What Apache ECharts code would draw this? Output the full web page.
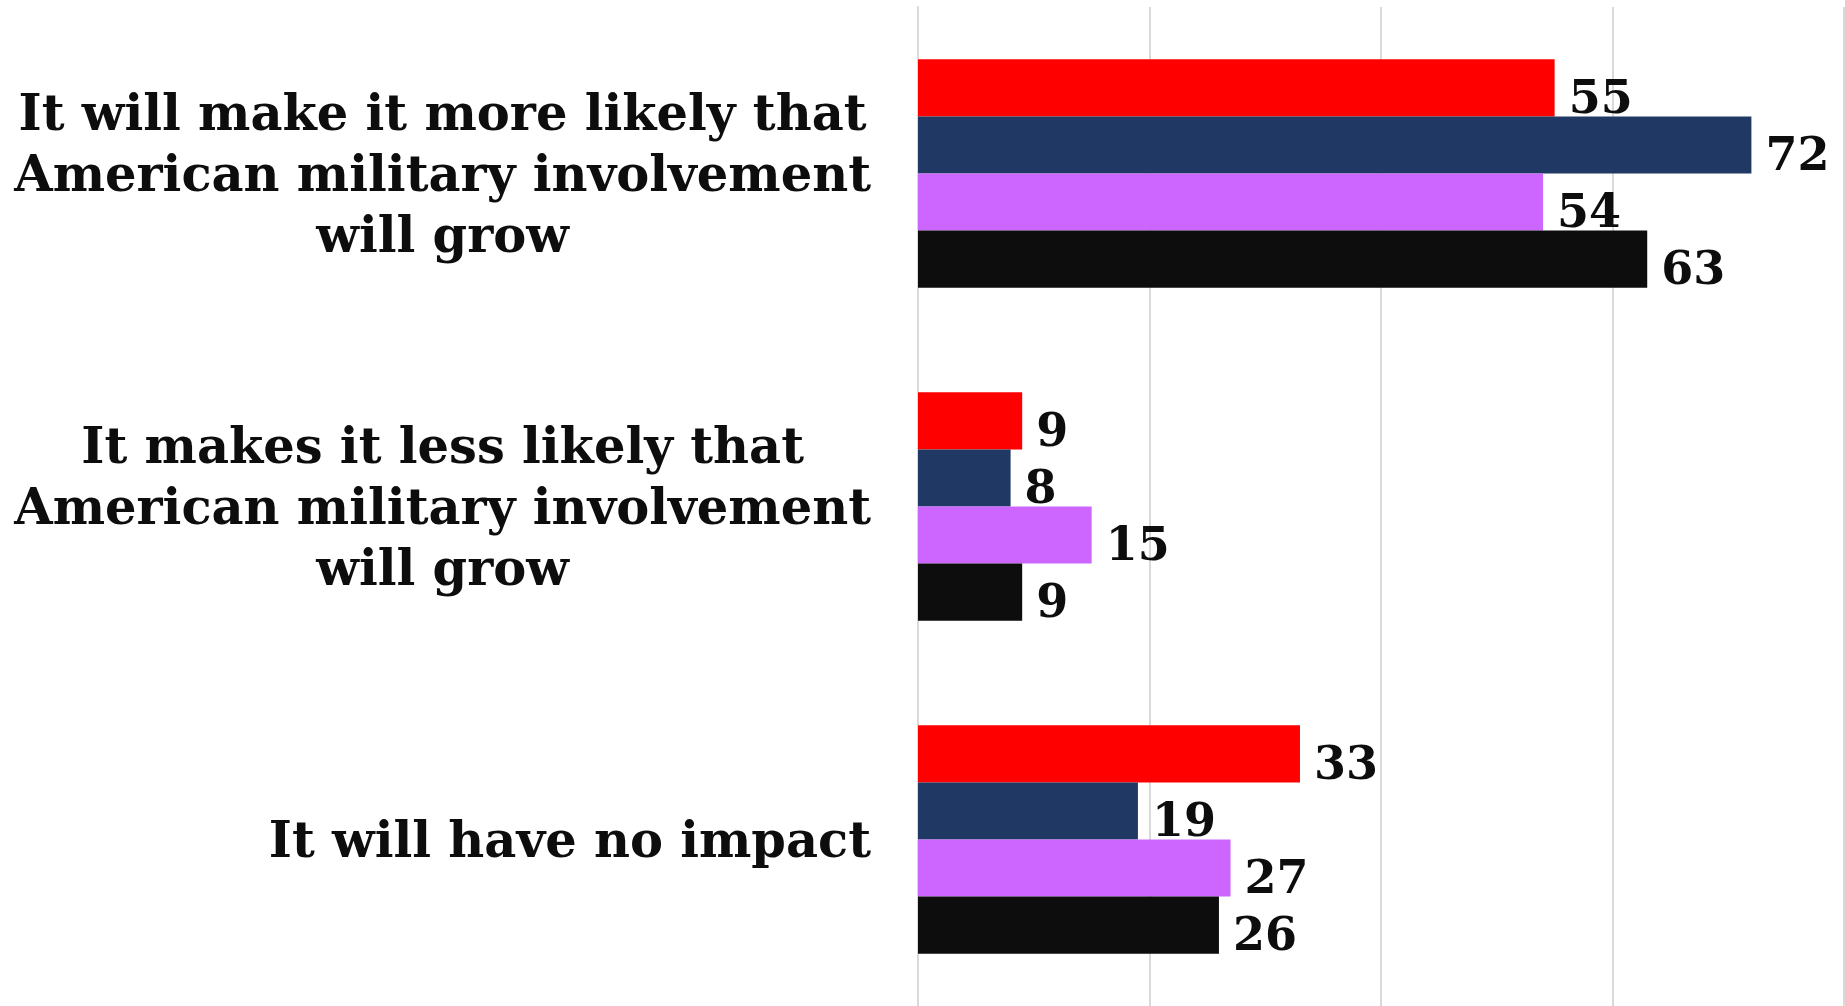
<!DOCTYPE html>
<html>
<head>
<meta charset="utf-8">
<script src="https://cdn.jsdelivr.net/npm/echarts@6/dist/echarts.min.js"></script>
<style>
html,body{margin:0;padding:0;background:#fff;}
#chart{width:1845px;height:1006px;}
</style>
</head>
<body>
<div id="chart"></div>
<script>
var categories = [
  "It will make it more likely that\nAmerican military involvement\nwill grow",
  "It makes it less likely that\nAmerican military involvement\nwill grow",
  "It will have no impact"
];
var seriesNames = ["Series 1", "Series 2", "Series 3", "Series 4"];
var seriesColors = ["#FF0000", "#203864", "#CC66FF", "#0D0D0D"];
var series1 = [55, 9, 33];
var series2 = [72, 8, 19];
var series3 = [54, 15, 27];
var series4 = [63, 9, 26];
var allSeries = [series1, series2, series3, series4];

var FONT = "'DejaVu Serif', 'Liberation Serif', serif";

var chart = echarts.init(document.getElementById('chart'), null, {renderer: 'canvas'});
chart.setOption({
  backgroundColor: '#ffffff',
  animation: false,
  grid: {left: 918, right: 1, top: 7, bottom: -3, containLabel: false},
  xAxis: {
    type: 'value', min: 0, max: 80, interval: 20,
    axisLabel: {show: false}, axisLine: {show: false}, axisTick: {show: false},
    splitLine: {show: true, lineStyle: {color: '#D9D9D9', width: 2}}
  },
  yAxis: {
    type: 'category', data: categories, inverse: true,
    axisLine: {show: true, lineStyle: {color: '#D9D9D9', width: 2}},
    axisTick: {show: false},
    axisLabel: {
      margin: 47,
      padding: [10, 0, 0, 0],
      formatter: function (v) { return '{c|' + v.split('\n').join('}\n{c|') + '}'; },
      rich: {
        c: {align: 'center', fontFamily: FONT, fontWeight: 'bold', fontSize: 49.5, lineHeight: 61, color: '#0D0D0D'}
      }
    }
  },
  series: allSeries.map(function (d, i) {
    return {
      name: seriesNames[i], type: 'bar', data: d,
      barGap: '0%', barCategoryGap: '31.4%',
      itemStyle: {color: seriesColors[i]},
      label: {
        show: true, position: 'right', distance: 14, offset: [0, 13],
        fontFamily: FONT, fontWeight: 'bold', fontSize: 46, color: '#0D0D0D'
      }
    };
  })
});
</script>
</body>
</html>
